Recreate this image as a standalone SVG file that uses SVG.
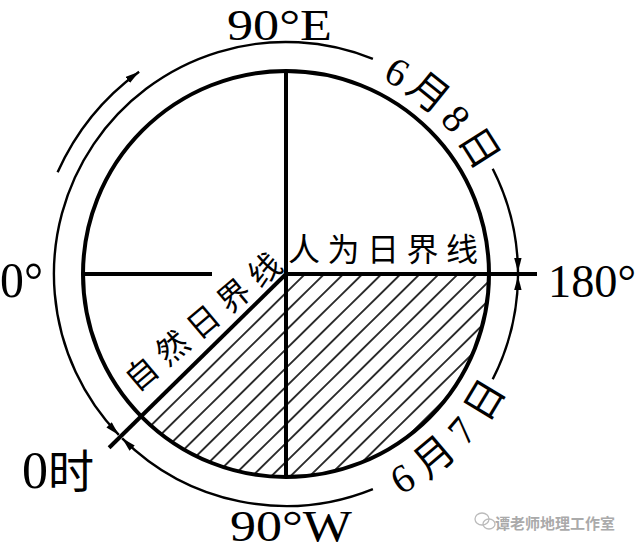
<svg xmlns="http://www.w3.org/2000/svg" width="640" height="551" viewBox="0 0 640 551">
<defs>
<style>
.ln{stroke:#000;fill:none;stroke-width:4}
.arc{stroke:#000;fill:none;stroke-width:2.4}
.t{font-family:"Liberation Serif","Noto Sans CJK SC",serif;fill:#000}
.c{font-family:"Noto Sans CJK SC","Liberation Serif",sans-serif;fill:#000}
.wm{font-family:"Noto Sans CJK SC",sans-serif;fill:#aaa;font-weight:bold}
</style>
<marker id="ah" markerUnits="userSpaceOnUse" markerWidth="14" markerHeight="8" refX="14" refY="4" orient="auto">
<path d="M0,0.3 L14,4 L0,7.7 z" fill="#000"/>
</marker>
<pattern id="hatch" patternUnits="userSpaceOnUse" width="13.4" height="20" patternTransform="translate(286 274) rotate(45.5) translate(-6.7 0)">
<line x1="6.7" y1="-1" x2="6.7" y2="21" stroke="#000" stroke-width="1.6"/>
</pattern>
<path id="p8" d="M342.2,64.4 A217,217 0 0 1 489.9,199.8"/>
<path id="p7" d="M350.4,514.5 A249,249 0 0 0 520,359.2"/>
</defs>
<rect width="640" height="551" fill="#fff"/>

<g id="hatched-region">
<path d="M286,274 L489,274 A203,203 0 0 1 141.2,416.3 Z" fill="url(#hatch)"/>
</g>

<g id="earth">
<circle cx="286" cy="274" r="203" class="ln" stroke-width="4.5"/>
<line x1="286" y1="71" x2="286" y2="477" class="ln"/>
<line x1="83" y1="274" x2="212" y2="274" class="ln"/>
<line x1="286" y1="274" x2="537" y2="274" class="ln"/>
<line id="natural-line" x1="286" y1="274" x2="109.1" y2="447.8" class="ln" stroke-width="4.5"/>
</g>

<g id="connectors">
<path d="M372.9,58.9 A232,232 0 0 0 118.8,434.9" class="arc" marker-end="url(#ah)"/>
<path d="M492.7,168.7 A232,232 0 0 1 518,272" class="arc" marker-end="url(#ah)"/>
<path d="M492.7,379.3 A232,232 0 0 0 518,276" class="arc" marker-end="url(#ah)"/>
<path d="M372.9,489.1 A232,232 0 0 1 122.2,438.3" class="arc" marker-end="url(#ah)"/>
<path d="M57.6,172.3 A250,250 0 0 1 139.1,71.7" class="arc" marker-end="url(#ah)"/>
</g>

<g id="label-90E"><text class="t" x="227" y="40" font-size="44" textLength="105" lengthAdjust="spacingAndGlyphs">90°E</text></g>
<g id="label-0"><text class="t" x="0" y="297" font-size="50" textLength="43" lengthAdjust="spacingAndGlyphs">0°</text></g>
<g id="label-180"><text class="t" x="548" y="297" font-size="46" textLength="88" lengthAdjust="spacingAndGlyphs">180°</text></g>
<g id="label-90W"><text class="t" x="230" y="541" font-size="44" textLength="122" lengthAdjust="spacingAndGlyphs">90°W</text></g>
<g id="label-0h"><text class="t" x="22" y="488" font-size="52">0<tspan font-size="46">时</tspan></text></g>

<g id="label-artificial"><text class="c" x="288" y="261" font-size="32" letter-spacing="7.5">人为日界线</text></g>
<g id="label-natural"><text class="c" font-size="32" letter-spacing="8.3" dominant-baseline="central" transform="translate(127.8 382.3) rotate(-40.2)">自然日界线</text></g>

<g id="label-june8"><text class="t" font-size="40" letter-spacing="5.5"><textPath href="#p8" startOffset="42">6月8日</textPath></text></g>
<g id="label-june7"><text class="t" font-size="40" letter-spacing="10.5"><textPath href="#p7" startOffset="54">6月7日</textPath></text></g>

<g id="watermark">
<ellipse cx="482" cy="519" rx="7" ry="6" fill="none" stroke="#bbb" stroke-width="1.3"/>
<ellipse cx="489" cy="524" rx="6" ry="5" fill="none" stroke="#bbb" stroke-width="1.3"/>
<text class="wm" x="495" y="529" font-size="15">谭老师地理工作室</text>
</g>
</svg>
